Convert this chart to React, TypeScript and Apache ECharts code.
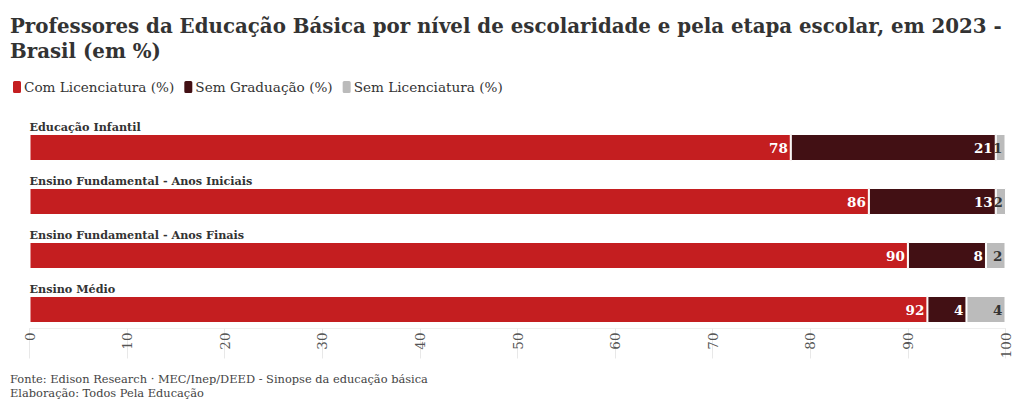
import React, { useEffect, useRef } from "react";
import * as echarts from "echarts";

const categories = [
  "Educação Infantil",
  "Ensino Fundamental - Anos Iniciais",
  "Ensino Fundamental - Anos Finais",
  "Ensino Médio",
];
const comLicenciatura = [78, 86, 90, 92];
const semGraduacao = [21, 13, 8, 4];
const semLicenciatura = [1, 2, 2, 4];
const seriesNames = ["Com Licenciatura (%)", "Sem Graduação (%)", "Sem Licenciatura (%)"];
const xTicks = [0, 10, 20, 30, 40, 50, 60, 70, 80, 90, 100];

const titleText =
  "Professores da Educação Básica por nível de escolaridade e pela etapa escolar, em 2023 -\nBrasil (em %)";
const footer1 = "Fonte: Edison Research · MEC/Inep/DEED - Sinopse da educação básica";
const footer2 = "Elaboração: Todos Pela Educação";

const FONT = "'DejaVu Serif', 'Liberation Serif', serif";

export default function App() {
  const ref = useRef<HTMLDivElement>(null);
  useEffect(() => {
    document.body.style.margin = "0";
    const chart = echarts.init(ref.current!, null, { renderer: "svg" });
    const mk = (name: string, data: number[], color: string, labelColor: string) => ({
      name,
      type: "bar",
      stack: "total",
      data,
      barWidth: 27,
      itemStyle: { color, borderColor: "#fff", borderWidth: 1 },
      label: {
        show: true,
        position: "insideRight",
        distance: 3,
        color: labelColor,
        fontFamily: FONT,
        fontWeight: "bold",
        fontSize: 13.5,
      },
    });
    chart.setOption({
      animation: false,
      textStyle: { fontFamily: FONT },
      title: {
        text: titleText,
        left: 5,
        top: 8,
        textStyle: {
          fontFamily: FONT,
          fontSize: 19.8,
          fontWeight: "bold",
          color: "#333",
          lineHeight: 25,
        },
      },
      legend: {
        left: 6,
        top: 74,
        icon: "roundRect",
        itemWidth: 10,
        itemHeight: 14,
        itemGap: 8,
        textStyle: { fontFamily: FONT, fontSize: 13.6, color: "#333", padding: [0, 0, 0, -3] },
        data: seriesNames,
      },
      grid: { left: 29.5, right: 14.5, top: 120.5, bottom: 75.5, containLabel: false },
      xAxis: {
        type: "value",
        min: 0,
        max: 100,
        interval: 10,
        offset: -8,
        splitLine: { show: false },
        axisLine: { show: true, lineStyle: { color: "#eee" } },
        axisTick: { show: true, length: 30, lineStyle: { color: "#e8e8e8" } },
        axisLabel: {
          rotate: 90,
          margin: 4,
          fontFamily: FONT,
          fontSize: 13.5,
          color: "#555",
          formatter: (v: number) => (xTicks.includes(v) ? String(v) : ""),
        },
      },
      yAxis: {
        type: "category",
        inverse: true,
        data: categories,
        axisLine: { show: false },
        axisTick: { show: false },
        axisLabel: {
          inside: true,
          margin: 0,
          verticalAlign: "bottom",
          padding: [0, 0, 15, 0],
          fontFamily: FONT,
          fontWeight: "bold",
          fontSize: 11.2,
          color: "#333",
        },
      },
      series: [
        mk(seriesNames[0], comLicenciatura, "#c41e20", "#fff"),
        mk(seriesNames[1], semGraduacao, "#421014", "#fff"),
        mk(seriesNames[2], semLicenciatura, "#bbbbbb", "#333"),
      ],
      graphic: [
        {
          type: "text",
          x: 10,
          y: 379,
          style: { text: footer1, font: `11.4px ${FONT}`, fill: "#444", verticalAlign: "middle" },
        },
        {
          type: "text",
          x: 10,
          y: 393,
          style: { text: footer2, font: `11.4px ${FONT}`, fill: "#444", verticalAlign: "middle" },
        },
      ],
    });
    return () => chart.dispose();
  }, []);
  return <div ref={ref} style={{ width: 1020, height: 412, position: "absolute", left: 0, top: 0 }} />;
}
